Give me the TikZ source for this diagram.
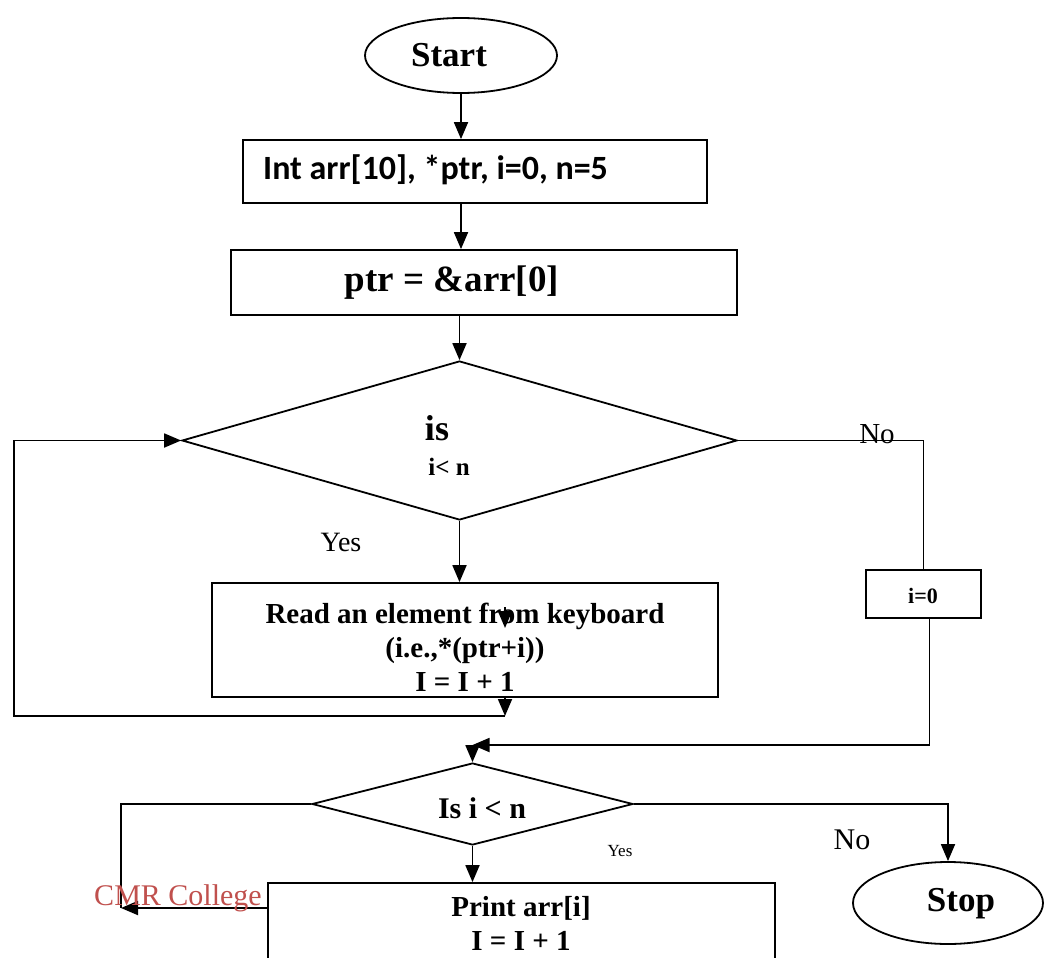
\documentclass[tikz,border=0pt]{standalone}
\usepackage{fontspec}
\setmainfont{Liberation Serif}
\newfontfamily\calibfont{Carlito}
\usetikzlibrary{shapes.geometric,arrows.meta}
\definecolor{cmrred}{HTML}{C0504D}

\tikzset{
  flow/.style={draw, line width=1.8pt, inner sep=0pt},
  procbox/.style={flow, rectangle},
  term/.style={flow, ellipse},
  decide/.style={flow, diamond},
  ln/.style={line width=1.8pt},
  arr/.style={ln, -{Triangle[length=17pt,width=14pt]}},
  txt/.style={inner sep=0pt, font=\bfseries\fontsize{#1}{#1}\selectfont},
  lbl/.style={inner sep=0pt, font=\fontsize{#1}{#1}\selectfont},
  blk/.style={inner sep=0pt, align=center, font=\bfseries\fontsize{29}{34}\selectfont},
}

\begin{document}
\begin{tikzpicture}[x=1pt, y=-1pt]
  \clip (0,0) rectangle (1045,958);

  % Shapes
  \node[term, minimum width=192pt, minimum height=75pt] (start) at (461,55.5) {};
  \node[procbox, minimum width=464pt, minimum height=63pt] (decl) at (475,171.5) {};
  \node[procbox, minimum width=506pt, minimum height=65pt] (init) at (484,282.5) {};
  \node[decide, minimum width=555pt, minimum height=159pt] (check) at (459.5,440.5) {};
  \node[procbox, minimum width=506pt, minimum height=114pt] (read) at (465,640) {};
  \node[procbox, minimum width=115pt, minimum height=48pt] (iz) at (923.5,594) {};
  \node[decide, minimum width=321pt, minimum height=82pt] (again) at (472.5,804) {};
  \node[procbox, minimum width=507pt, minimum height=120pt] (print) at (521.5,943) {};
  \node[term, minimum width=190pt, minimum height=82pt] (stop) at (948,903) {};

  % Free ends
  \coordinate (stray) at (505,607);
  \coordinate (loop) at (505,716);
  \coordinate (lft) at (14,716);
  \coordinate (merge) at (472.5,745);
  \coordinate (lft2) at (121,908);

  % Connectors
  \draw[arr] (start.south) -- (start.south |- decl.north);
  \draw[arr] (start.south |- decl.south) -- (start.south |- init.north);
  \draw[arr] (check.north |- init.south) -- (check.north);
  \draw[arr] (check.south) -- (check.south |- read.north);
  \draw[arr] (stray) -- ++(0,21);
  \draw[arr] (read.south -| loop) -- (loop);
  \draw[arr] (loop) -- (lft) |- (check.west);
  \draw[ln] (check.east) -| (iz.north);
  \draw[arr] ([xshift=6pt]iz.south) |- (merge);
  \draw[arr] (merge) -- (again.north);
  \draw[arr] (again.south) -- (again.south |- print.north);
  \draw[ln] (again.west) -| (lft2);
  \draw[arr] (print.west |- lft2) -- (lft2);
  \draw[arr] (again.east) -| (stop.north);

  % Texts
  \node[txt=35] (startt) at (449,55) {Start};
  \node[anchor=west, inner sep=0pt, font=\calibfont\bfseries\fontsize{34}{34}\selectfont] (declt) at (263,170) {Int arr[10], *ptr, i=0, n=5};
  \node[txt=37] (initt) at (452,283) {ptr = \&arr[0]};
  \node[txt=36] (ist) at (437,428) {is};
  \node[txt=25] (condt) at (449,467) {i< n};
  \node[blk] (readt) at (465,647) {Read an element from keyboard\\(i.e.,*(ptr+i))\\I = I + 1};
  \node[txt=22] (izt) at (923,596) {i=0};
  \node[txt=30] (againt) at (482,808) {Is i < n};
  \node[blk] (printt) at (521,923) {Print arr[i]\\I = I + 1};
  \node[txt=35] (stopt) at (961,904) {Stop};

  % Branch labels
  \node[lbl=28] (yes1) at (341,542) {Yes};
  \node[lbl=29] (no1) at (877,434) {No};
  \node[lbl=17] (yes2) at (620,851) {Yes};
  \node[lbl=30] (no2) at (852,840) {No};
  \node[lbl=30, text=cmrred] (cmr) at (178,898) {CMR College};
\end{tikzpicture}
\end{document}
